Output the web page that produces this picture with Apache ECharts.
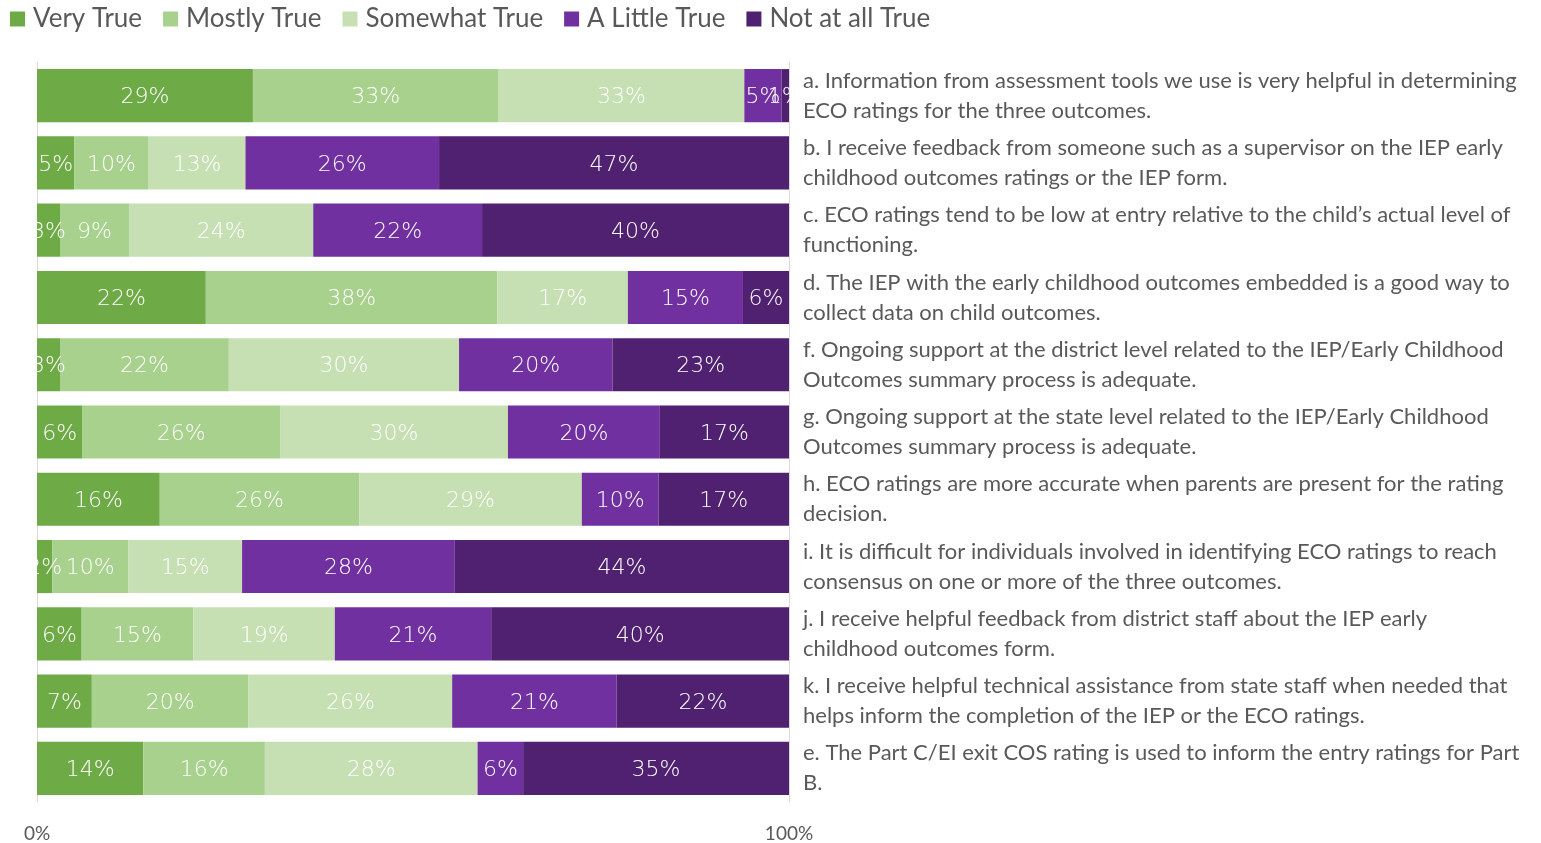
<!DOCTYPE html>
<html>
<head>
<meta charset="utf-8">
<script src="https://cdn.jsdelivr.net/npm/echarts@6/dist/echarts.min.js"></script>
<style>
  html, body { margin: 0; padding: 0; background: #fff; }
  #chart { width: 1541px; height: 843px; }
</style>
</head>
<body>
<div id="chart"></div>
<script>
// Survey statements, top to bottom
const categories = [
  'a. Information from assessment tools we use is very helpful in determining\nECO ratings for the three outcomes.',
  'b. I receive feedback from someone such as a supervisor on the IEP early\nchildhood outcomes ratings or the IEP form.',
  'c. ECO ratings tend to be low at entry relative to the child\u2019s actual level of\nfunctioning.',
  'd. The IEP with the early childhood outcomes embedded is a good way to\ncollect data on child outcomes.',
  'f. Ongoing support at the district level related to the IEP/Early Childhood\nOutcomes summary process is adequate.',
  'g. Ongoing support at the state level related to the IEP/Early Childhood\nOutcomes summary process is adequate.',
  'h. ECO ratings are more accurate when parents are present for the rating\ndecision.',
  'i. It is difficult for individuals involved in identifying ECO ratings to reach\nconsensus on one or more of the three outcomes.',
  'j. I receive helpful feedback from district staff about the IEP early\nchildhood outcomes form.',
  'k. I receive helpful technical assistance from state staff when needed that\nhelps inform the completion of the IEP or the ECO ratings.',
  'e. The Part C/EI exit COS rating is used to inform the entry ratings for Part\nB.'
];

// Response shares (%) per statement
const veryTrue      = [29,  5,  3, 22,  3,  6, 16,  2,  6,  7, 14];
const mostlyTrue    = [33, 10,  9, 38, 22, 26, 26, 10, 15, 20, 16];
const somewhatTrue  = [33, 13, 24, 17, 30, 30, 29, 15, 19, 26, 28];
const aLittleTrue   = [ 5, 26, 22, 15, 20, 20, 10, 28, 21, 21,  6];
const notAtAllTrue  = [ 1, 47, 40,  6, 23, 17, 17, 44, 40, 22, 35];

const seriesNames = ['Very True', 'Mostly True', 'Somewhat True', 'A Little True', 'Not at all True'];
const seriesData  = [veryTrue, mostlyTrue, somewhatTrue, aLittleTrue, notAtAllTrue];
const colors = ['#6EAB46', '#A8D18D', '#C6E0B4', '#7030A0', '#4F2170'];
const xTicks = ['0%', '100%'];

// 100% stacked: each row is scaled by its own total
const rowTotals = categories.map((_, i) => seriesData.reduce((s, arr) => s + arr[i], 0));

const chart = echarts.init(document.getElementById('chart'));
chart.setOption({
  animation: false,
  color: colors,
  legend: {
    left: 5,
    top: 1,
    itemWidth: 15,
    itemHeight: 15,
    itemGap: 21,
    icon: 'rect',
    textStyle: { fontFamily: 'Lato', fontSize: 26, color: '#595959', padding: [0, 0, 0, 3] },
    data: seriesNames
  },
  grid: { left: 37, right: 752, top: 62, bottom: 41 },
  xAxis: {
    type: 'value',
    min: 0,
    max: 1,
    interval: 1,
    axisLine: { show: false },
    axisTick: { show: false },
    splitLine: { show: true, lineStyle: { color: '#D9D9D9', width: 1 } },
    axisLabel: {
      margin: 22,
      fontFamily: 'Lato',
      fontSize: 19,
      color: '#595959',
      formatter: v => xTicks[Math.round(v)]
    }
  },
  yAxis: {
    type: 'category',
    position: 'right',
    inverse: true,
    data: categories,
    axisLine: { show: false },
    axisTick: { show: false },
    axisLabel: {
      margin: 14,
      align: 'left',
      fontFamily: 'Lato',
      fontSize: 22,
      lineHeight: 30,
      color: '#595959'
    }
  },
  series: seriesData.map((arr, k) => ({
    name: seriesNames[k],
    type: 'bar',
    stack: 'total',
    barCategoryGap: '21%',
    data: arr.map((v, i) => ({ value: v / rowTotals[i], raw: v })),
    label: {
      show: true,
      position: 'inside',
      offset: [0, 2],
      color: '#FFFFFF',
      fontFamily: 'DejaVu Sans',
      fontWeight: 200,
      fontSize: 22,
      formatter: p => p.data.raw + '%'
    }
  }))
});
</script>
</body>
</html>
